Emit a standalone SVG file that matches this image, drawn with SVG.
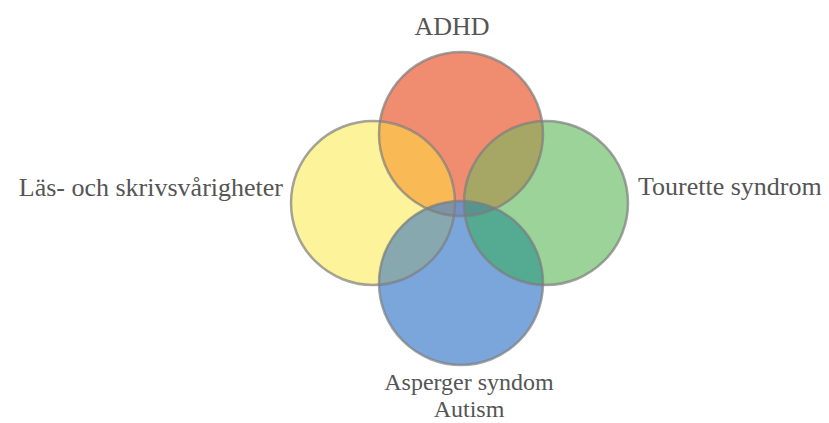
<svg xmlns="http://www.w3.org/2000/svg" width="829" height="423" viewBox="0 0 829 423">
<style>
.lbl{font-family:"Liberation Serif","Times New Roman",serif;font-size:26px;fill:#555555;}
.lbl2{font-family:"Liberation Serif","Times New Roman",serif;font-size:24px;fill:#555555;}
.ring{fill:none;stroke:#7d7d7d;stroke-width:2.5;stroke-opacity:0.7;}
</style>
<defs>
<clipPath id="cRed"><circle cx="461" cy="134" r="82"/></clipPath>
<clipPath id="cBlue"><circle cx="461" cy="283" r="82"/></clipPath>
</defs>
<rect width="829" height="423" fill="#ffffff"/>
<g id="node-adhd">
<circle cx="461" cy="134" r="82" fill="#F08C70"/>
<text class="lbl" x="452" y="35" text-anchor="middle">ADHD</text>
</g>
<g id="node-las">
<circle cx="373" cy="203" r="82" fill="#FCF39A"/>
<text class="lbl" x="283" y="196" text-anchor="end">Läs- och skrivsvårigheter</text>
</g>
<g id="node-tourette">
<circle cx="546" cy="203" r="82" fill="#9BD398"/>
<text class="lbl" x="638" y="195">Tourette syndrom</text>
</g>
<g id="node-asperger">
<circle cx="461" cy="283" r="82" fill="#7AA6DC"/>
<text class="lbl2" x="469" y="390" text-anchor="middle">Asperger syndom</text>
<text class="lbl2" x="469" y="417" text-anchor="middle">Autism</text>
</g>
<g id="overlaps">
<circle cx="373" cy="203" r="82" fill="#F9BA55" clip-path="url(#cRed)"/>
<circle cx="546" cy="203" r="82" fill="#A6A665" clip-path="url(#cRed)"/>
<circle cx="373" cy="203" r="82" fill="#88A8B0" clip-path="url(#cBlue)"/>
<circle cx="546" cy="203" r="82" fill="#55AA92" clip-path="url(#cBlue)"/>
<circle cx="461" cy="134" r="82" fill="#5a4a7a" fill-opacity="0.22" clip-path="url(#cBlue)"/>
</g>
<g id="connectors">
<circle class="ring" cx="461" cy="134" r="82"/>
<circle class="ring" cx="373" cy="203" r="82"/>
<circle class="ring" cx="546" cy="203" r="82"/>
<circle class="ring" cx="461" cy="283" r="82"/>
</g>
</svg>
